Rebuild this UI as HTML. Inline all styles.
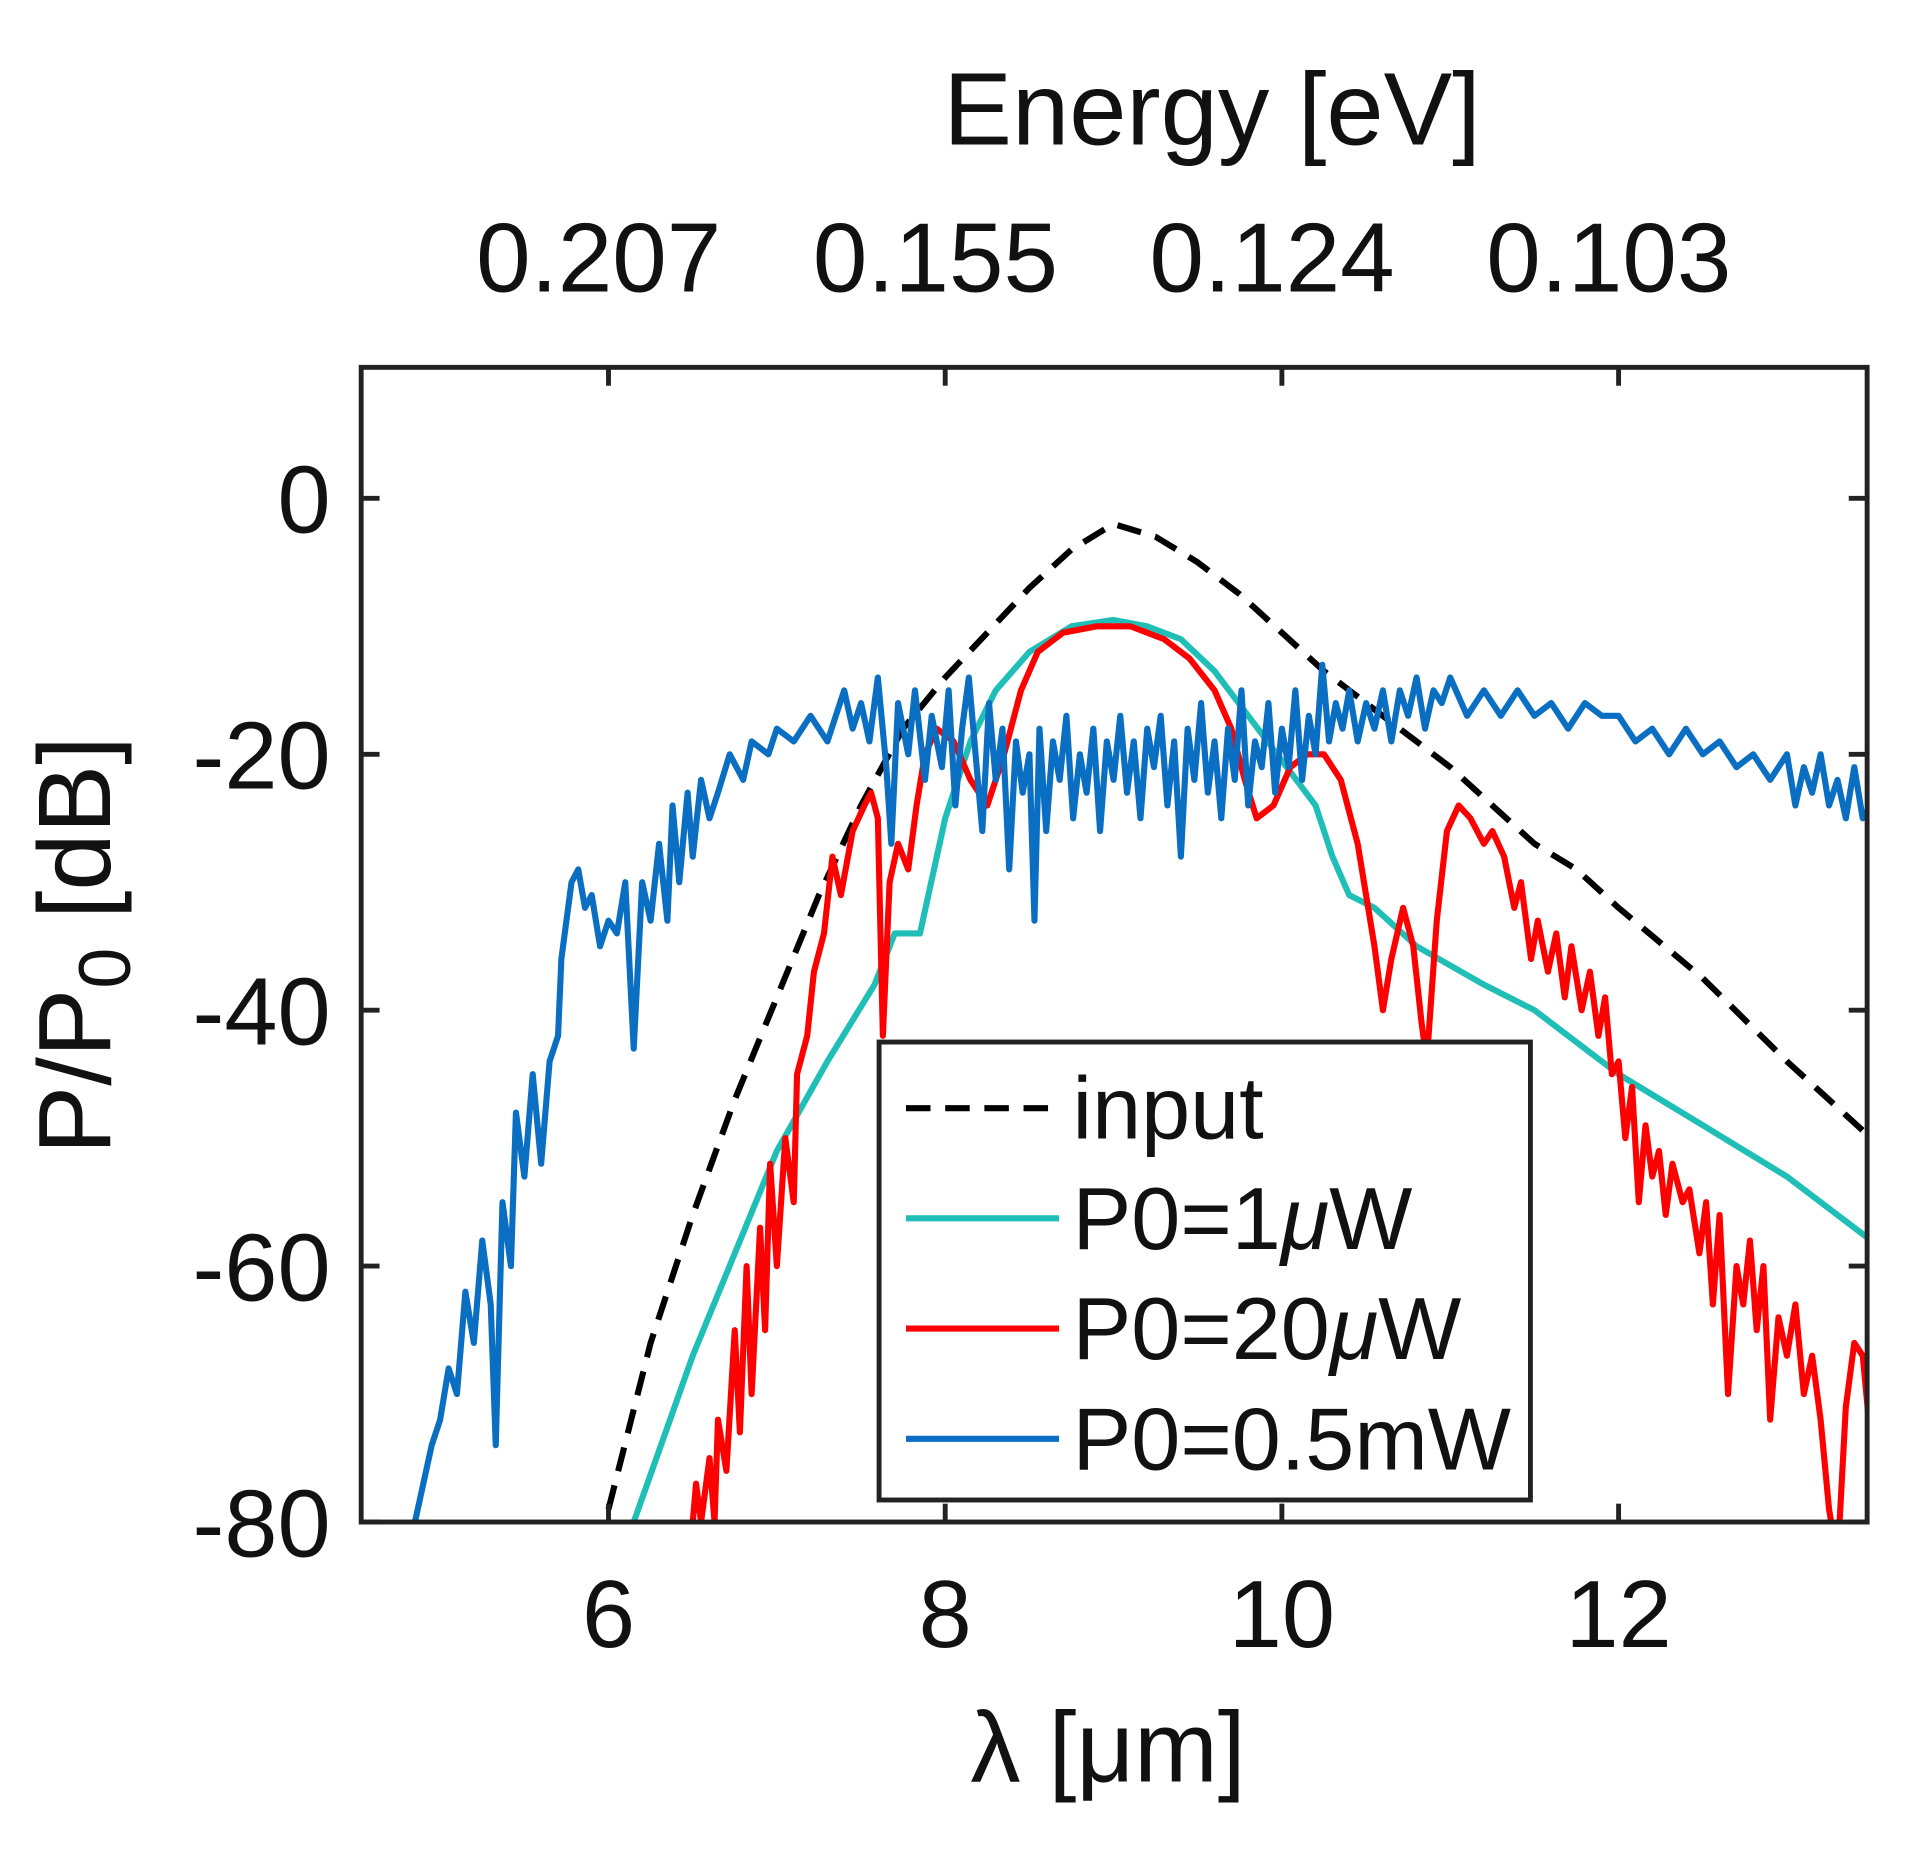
<!DOCTYPE html>
<html><head><meta charset="utf-8"><style>
html,body{margin:0;padding:0;background:#fff;}
svg{display:block;}
text{font-family:"Liberation Sans",Arial,sans-serif;fill:#111;}
</style></head><body>
<svg id="chart" width="1921" height="1871" viewBox="0 0 1569 1528" preserveAspectRatio="none" xmlns="http://www.w3.org/2000/svg">
<defs><clipPath id="pc"><rect x="295" y="300" width="1230" height="943"/></clipPath></defs>
<g id="series" clip-path="url(#pc)"></g>
<rect x="295" y="300" width="1230" height="943" fill="none" stroke="#222" stroke-width="4"/>
<g id="ticks"></g>
<text x="990" y="118" font-size="84" text-anchor="middle">Energy [eV]</text>
<text x="905" y="1455" font-size="82" text-anchor="middle">λ [μm]</text>
<text transform="translate(90,772) rotate(-90)" font-size="84" text-anchor="middle">P/P<tspan font-size="60" dy="16">0</tspan><tspan dy="-16"> [dB]</tspan></text>
<g>
<rect x="718" y="851" width="532" height="374" fill="#fff" stroke="#222" stroke-width="4"/>
<line x1="740" y1="905" x2="865" y2="905" stroke="#000" stroke-width="5" stroke-dasharray="20,12"/>
<text x="876" y="930" font-size="72">input</text>
<line x1="740" y1="995" x2="865" y2="995" stroke="#1fbfb8" stroke-width="5"/>
<text x="876" y="1020" font-size="72">P0=1<tspan font-style="italic">μ</tspan>W</text>
<line x1="740" y1="1085" x2="865" y2="1085" stroke="#ff0000" stroke-width="5"/>
<text x="876" y="1110" font-size="72">P0=20<tspan font-style="italic">μ</tspan>W</text>
<line x1="740" y1="1175" x2="865" y2="1175" stroke="#0a6fc2" stroke-width="5"/>
<text x="876" y="1200" font-size="72">P0=0.5mW</text>
</g>
</svg>
<script>
const xTicks=[6,8,10,12];
const yTicks=[0,-20,-40,-60,-80];
const topTickLambda=[6,8,10,12];
const topTickLabels=["0.207","0.155","0.124","0.103"];
const inputX=[6.0,6.25,6.5,6.75,7,7.25,7.5,7.75,8,8.25,8.5,8.75,9,9.25,9.5,9.75,10,10.25,10.5,10.75,11,11.25,11.5,11.75,12,12.5,13,13.5];
const inputY=[-79,-66,-56,-47,-39,-31,-24,-18,-14,-10.5,-7,-4,-2,-3,-5,-7.5,-10.5,-13.5,-16,-18.5,-21,-24,-27,-29,-32,-37.5,-44,-50];
const cyanX=[6.15,6.5,7.0,7.3,7.58,7.7,7.85,8.0,8.15,8.3,8.5,8.75,9.0,9.2,9.4,9.6,9.8,10.0,10.2,10.3,10.4,10.55,10.8,11.2,11.5,12.0,12.5,13.0,13.5];
const cyanY=[-80,-67,-51,-44,-38,-34,-34,-25,-19,-15,-12,-10,-9.5,-10,-11,-13.5,-17,-20.5,-24,-28,-31,-32,-35,-38,-40,-45,-49,-53,-58];
const redX=[6.5,6.52,6.55,6.6,6.63,6.65,6.7,6.75,6.78,6.82,6.85,6.9,6.93,6.96,7.0,7.05,7.1,7.12,7.18,7.22,7.28,7.33,7.38,7.45,7.52,7.56,7.6,7.63,7.67,7.72,7.78,7.83,7.88,7.95,8.05,8.15,8.25,8.35,8.45,8.55,8.7,8.9,9.1,9.3,9.45,9.6,9.7,9.78,9.85,9.95,10.05,10.15,10.25,10.35,10.45,10.55,10.6,10.65,10.72,10.78,10.83,10.86,10.92,10.98,11.05,11.12,11.2,11.25,11.32,11.38,11.42,11.48,11.52,11.58,11.63,11.68,11.72,11.78,11.83,11.88,11.92,11.96,12.0,12.04,12.08,12.12,12.16,12.2,12.24,12.28,12.32,12.38,12.42,12.48,12.52,12.56,12.6,12.65,12.7,12.74,12.78,12.82,12.86,12.9,12.95,13.0,13.05,13.1,13.15,13.2,13.25,13.3,13.35,13.4,13.45,13.5];
const redY=[-80,-77,-80,-75,-80,-72,-76,-65,-73,-60,-70,-57,-65,-52,-60,-50,-55,-45,-42,-37,-34,-28,-31,-26,-24,-23,-25,-42,-30,-27,-29,-24,-20,-18,-19,-22,-24,-20,-15,-12,-10.5,-10,-10,-11,-12.5,-15,-18,-22,-25,-24,-21,-20,-20,-22,-27,-35,-40,-36,-32,-35,-41,-44,-33,-26,-24,-25,-27,-26,-28,-32,-30,-36,-33,-37,-34,-39,-35,-40,-37,-42,-39,-45,-44,-50,-46,-55,-49,-53,-51,-56,-52,-55,-54,-59,-55,-63,-56,-70,-60,-63,-58,-65,-60,-72,-64,-67,-63,-70,-67,-72,-79,-83,-71,-66,-67,-74];
const blueX=[4.85,4.95,5.0,5.05,5.1,5.15,5.2,5.25,5.3,5.33,5.37,5.42,5.45,5.5,5.55,5.6,5.65,5.7,5.72,5.78,5.82,5.86,5.9,5.95,6.0,6.05,6.1,6.15,6.2,6.25,6.3,6.35,6.38,6.42,6.47,6.5,6.55,6.6,6.65,6.72,6.8,6.85,6.95,7.0,7.1,7.2,7.3,7.4,7.45,7.5,7.55,7.6,7.65,7.68,7.72,7.78,7.82,7.88,7.92,7.98,8.02,8.06,8.1,8.14,8.18,8.22,8.26,8.3,8.34,8.38,8.42,8.46,8.5,8.53,8.56,8.6,8.64,8.68,8.72,8.76,8.8,8.84,8.88,8.92,8.96,9.0,9.04,9.08,9.12,9.16,9.2,9.24,9.28,9.32,9.36,9.4,9.44,9.48,9.52,9.56,9.6,9.64,9.68,9.72,9.76,9.8,9.84,9.88,9.92,9.96,10.0,10.04,10.08,10.12,10.16,10.2,10.24,10.28,10.32,10.36,10.4,10.45,10.5,10.55,10.6,10.65,10.7,10.75,10.8,10.85,10.9,10.95,11.0,11.1,11.2,11.3,11.4,11.5,11.6,11.7,11.8,11.9,12.0,12.1,12.2,12.3,12.4,12.5,12.6,12.7,12.8,12.9,13.0,13.05,13.1,13.15,13.2,13.25,13.3,13.35,13.4,13.45,13.5];
const blueY=[-80,-74,-72,-68,-70,-62,-66,-58,-63,-74,-55,-60,-48,-53,-45,-52,-44,-42,-36,-30,-29,-32,-31,-35,-33,-34,-30,-43,-30,-33,-27,-33,-24,-30,-23,-28,-22,-25,-23,-20,-22,-19,-20,-18,-19,-17,-19,-15,-18,-16,-19,-14,-21,-27,-16,-20,-15,-22,-17,-21,-15,-24,-18,-14,-20,-26,-16,-22,-18,-29,-19,-23,-20,-33,-18,-26,-19,-22,-17,-25,-20,-23,-18,-26,-19,-22,-17,-23,-19,-25,-18,-21,-17,-24,-19,-28,-18,-22,-16,-23,-19,-25,-18,-22,-15,-24,-19,-21,-16,-23,-18,-21,-15,-22,-17,-20,-13,-19,-16,-18,-15,-19,-16,-18,-15,-19,-15,-17,-14,-18,-15,-16,-14,-17,-15,-17,-15,-17,-16,-18,-16,-17,-17,-19,-18,-20,-18,-20,-19,-21,-20,-22,-20,-24,-21,-23,-20,-24,-22,-25,-21,-25,-24];

const NS='http://www.w3.org/2000/svg';
const xs=v=>497+(v-6)*137.5;
const ys=v=>407-v*209/20;
function mk(tag,attrs,parent){const e=document.createElementNS(NS,tag);for(const k in attrs)e.setAttribute(k,attrs[k]);parent.appendChild(e);return e;}
const ticks=document.getElementById('ticks');
xTicks.forEach(t=>{
  const l1=mk('line',{x1:xs(t),x2:xs(t),y1:1243,y2:1228,stroke:'#222','stroke-width':4},ticks);
  
  
  const tx=mk('text',{x:xs(t),y:1345,'font-size':78,'text-anchor':'middle'},ticks);
  tx.textContent=t;
  
  
});
topTickLambda.forEach((t,i)=>{
  const l=mk('line',{x1:xs(t),x2:xs(t),y1:300,y2:315,stroke:'#222','stroke-width':4},ticks);
  
  
  const tx=mk('text',{x:xs(t)-8,y:238,'font-size':80,'text-anchor':'middle'},ticks);
  tx.textContent=topTickLabels[i];
  
  
});
yTicks.forEach(t=>{
  const l=mk('line',{x1:295,x2:310,y1:ys(t),y2:ys(t),stroke:'#222','stroke-width':4},ticks);
  
  
  const l2=mk('line',{x1:1510,x2:1525,y1:ys(t),y2:ys(t),stroke:'#222','stroke-width':4},ticks);
  
  
  const tx=mk('text',{x:270,y:ys(t)+28,'font-size':78,'text-anchor':'end'},ticks);
  tx.textContent=t;
  
  
});
const series=document.getElementById('series');
function line(X,Y,color,dash,name){
  const d=X.map((x,i)=>(i?'L':'M')+xs(x).toFixed(1)+','+ys(Y[i]).toFixed(1)).join('');
  const p=mk('path',{d:d,fill:'none',stroke:color,'stroke-width':5,'stroke-linejoin':'round'},series);
  if(dash)p.setAttribute('stroke-dasharray',dash);
  
  
}
line(inputX,inputY,'#000','20,12','series-input');
line(cyanX,cyanY,'#1fbfb8',null,'series-p0-1uw');
line(redX,redY,'#ff0000',null,'series-p0-20uw');
line(blueX,blueY,'#0a6fc2',null,'series-p0-05mw');
</script>
</body></html>
